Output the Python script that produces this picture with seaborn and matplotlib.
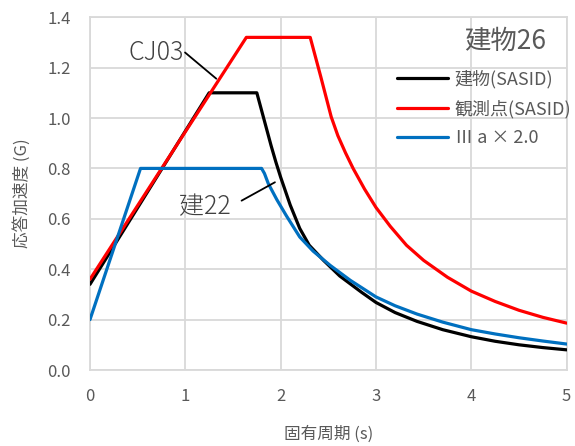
import matplotlib
matplotlib.use("Agg")
import matplotlib.pyplot as plt
from matplotlib.lines import Line2D
import seaborn as sns
import pandas as pd

# Response spectra: period (s) vs response acceleration (G)
bldg_T = [0.0, 1.25, 1.75, 1.80, 1.85, 1.90, 1.95, 2.00, 2.10, 2.20, 2.30, 2.45, 2.62,
          2.85, 3.00, 3.20, 3.43, 3.70, 4.00, 4.25, 4.50, 4.75, 5.00]
bldg_A = [0.34, 1.10, 1.10, 1.03, 0.96, 0.89, 0.825, 0.765, 0.655, 0.562, 0.495, 0.435, 0.373,
          0.308, 0.268, 0.228, 0.193, 0.160, 0.132, 0.114, 0.100, 0.089, 0.080]

site_T = [0.0, 1.64, 2.31, 2.42, 2.53, 2.60, 2.68, 2.76, 2.88, 3.00, 3.15, 3.32, 3.50,
          3.75, 4.00, 4.25, 4.50, 4.75, 5.00]
site_A = [0.36, 1.32, 1.32, 1.165, 1.005, 0.93, 0.862, 0.80, 0.718, 0.645, 0.57, 0.495, 0.435,
          0.368, 0.313, 0.272, 0.237, 0.209, 0.186]

code_T = [0.0, 0.53, 1.80, 1.83, 1.87, 1.96, 2.06, 2.20, 2.34, 2.52, 2.73, 3.00, 3.20,
          3.43, 3.70, 4.00, 4.25, 4.50, 4.75, 5.00]
code_A = [0.20, 0.80, 0.80, 0.78, 0.74, 0.676, 0.612, 0.528, 0.472, 0.415, 0.356, 0.29, 0.255,
          0.222, 0.19, 0.16, 0.143, 0.128, 0.115, 0.103]

series_names = ["建物(SASID)", "観測点(SASID)", "Ⅲ a × 2.0"]
series_colors = ["#000000", "#FF0000", "#0070C0"]

x_ticks = [0, 1, 2, 3, 4, 5]
y_ticks = [0.0, 0.2, 0.4, 0.6, 0.8, 1.0, 1.2, 1.4]

frames = []
for name, T, A in zip(series_names, [bldg_T, site_T, code_T], [bldg_A, site_A, code_A]):
    frames.append(pd.DataFrame({"T": T, "A": A, "series": name}))
df = pd.concat(frames, ignore_index=True)

sns.set_theme(style="white")
plt.rcParams["font.family"] = ["Noto Sans CJK JP", "DejaVu Sans"]

fig = plt.figure(figsize=(5.75, 4.46), dpi=100)
ax = fig.add_axes([0.1565, 0.1704, 0.829, 0.791])

grid_c = "#D9D9D9"
text_c = "#595959"

sns.lineplot(data=df, x="T", y="A", hue="series", hue_order=series_names,
             palette=series_colors, sort=False, estimator=None, linewidth=2.3,
             ax=ax, legend=False, zorder=3)

ax.set_xlim(0, 5)
ax.set_ylim(0, 1.4)
ax.set_xticks(x_ticks)
ax.set_yticks(y_ticks)
ax.set_xticklabels([str(t) for t in x_ticks])
ax.set_yticklabels([f"{t:.1f}" for t in y_ticks])
ax.grid(True, color=grid_c, linewidth=1.3)
for s in ax.spines.values():
    s.set_color(grid_c)
    s.set_linewidth(1.3)
ax.tick_params(axis="both", length=0, labelsize=12, colors=text_c)
ax.tick_params(axis="y", pad=14)
ax.tick_params(axis="x", pad=13)

ax.set_xlabel("固有周期 (s)", fontsize=12, color=text_c, labelpad=15)
ax.set_ylabel("応答加速度 (G)", fontsize=12, color=text_c, labelpad=12)

# legend without frame in the upper right
handles = [Line2D([0], [0], color=c, lw=2.3) for c in series_colors]
leg = ax.legend(handles, series_names, loc="upper left",
                bbox_to_anchor=(0.644, 0.850), frameon=False, fontsize=13,
                handlelength=2.8, handletextpad=0.4, labelspacing=0.6,
                borderaxespad=0, borderpad=0)
for t in leg.get_texts():
    t.set_color(text_c)

ax.text(4.78, 1.305, "建物26", ha="right", va="center", fontsize=19, color=text_c)

# labels with leader lines
ax.text(0.986, 1.258, "CJ03", ha="right", va="center", fontsize=18,
        color="#404040", fontweight="light")
ax.plot([0.997, 1.325], [1.26, 1.156], color="black", lw=1.3, zorder=4)
ax.text(1.207, 0.648, "建22", ha="center", va="center", fontsize=18,
        color="#404040", fontweight="light")
ax.plot([1.59, 1.94], [0.672, 0.745], color="black", lw=1.3, zorder=4)

fig.savefig("out.png", dpi=100)
